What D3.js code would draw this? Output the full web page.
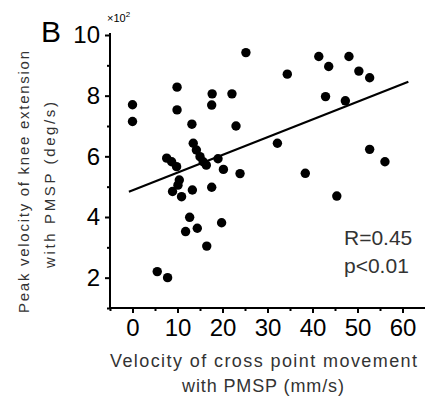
<!DOCTYPE html>
<html>
<head>
<meta charset="utf-8">
<script src="https://cdn.jsdelivr.net/npm/d3@7"></script>
<style>
  html, body { margin: 0; padding: 0; background: #fff; }
  svg { display: block; font-family: "Liberation Sans", Arial, sans-serif; }
</style>
</head>
<body>
<svg id="chart" width="425" height="396"></svg>
<script>
// velocity of cross point movement (mm/s)
const crossVelocity = [
  0, 0, 5.5, 7.8, 7.6, 8.7, 9.8, 9.9, 9.9, 10.4,
  10.1, 8.9, 10.9, 13.3, 11.8, 12.7, 14.4, 13.2, 13.5, 14.2,
  15.0, 15.7, 16.4, 16.5, 17.6, 17.7, 17.6, 19.0, 19.8, 20.2,
  22.1, 23.0, 23.9, 25.2, 32.2, 34.4, 38.4, 41.4, 42.9, 43.6,
  45.4, 47.3, 48.1, 50.3, 52.7, 52.7, 56.1
];
// peak velocity of knee extension (x10^2 deg/s)
const kneeVelocity = [
  7.7, 7.15, 2.2, 2.0, 5.94, 5.82, 5.66, 8.28, 7.53, 5.22,
  5.05, 4.84, 4.67, 4.89, 3.52, 3.99, 3.63, 7.06, 6.43, 6.21,
  5.99, 5.82, 5.71, 3.04, 4.98, 8.06, 7.69, 5.92, 3.81, 5.57,
  8.06, 7.0, 5.43, 9.42, 6.43, 8.71, 5.44, 9.29, 7.97, 8.96,
  4.69, 7.83, 9.29, 8.81, 8.59, 6.23, 5.82
];
// regression line end points
const fitX = [-0.8, 61.3];
const fitY = [4.83, 8.46];

const xTicks = [0, 10, 20, 30, 40, 50, 60];
const xMinorTicks = [-5, 5, 15, 25, 35, 45, 55];
const yTicks = [2, 4, 6, 8, 10];
const yMinorTicks = [1, 3, 5, 7, 9];

const svg = d3.select("#chart");

const x = d3.scaleLinear().domain([-5, 65]).range([110, 425]);
const y = d3.scaleLinear().domain([1, 10]).range([308, 35]);

// eixo y
const yAxis = svg.append("g").attr("transform", "translate(110,0)");
yAxis.call(d3.axisLeft(y).tickValues(yMinorTicks).tickSize(3).tickSizeOuter(0).tickFormat(""));
yAxis.selectAll(".tick line").attr("stroke-width", 2);
yAxis.select(".domain").remove();
const yAxisMajor = svg.append("g").attr("transform", "translate(110,0)");
yAxisMajor.call(d3.axisLeft(y).tickValues(yTicks).tickSize(5).tickSizeOuter(0).tickPadding(5));
yAxisMajor.select(".domain").attr("d", `M0,${y(1)}V${y(10) - 2}`).attr("stroke-width", 2);
yAxisMajor.selectAll(".tick line").attr("stroke-width", 2);
yAxisMajor.selectAll(".tick text").attr("font-size", 24).attr("font-family", "Liberation Sans, Arial, sans-serif").attr("fill", "#000");

// eixo x
const xAxis = svg.append("g").attr("transform", "translate(0,308)");
xAxis.call(d3.axisBottom(x).tickValues(xMinorTicks).tickSize(3).tickSizeOuter(0).tickFormat(""));
xAxis.selectAll(".tick line").attr("stroke-width", 2);
xAxis.select(".domain").remove();
const xAxisMajor = svg.append("g").attr("transform", "translate(0,308)");
xAxisMajor.call(d3.axisBottom(x).tickValues(xTicks).tickSize(5).tickSizeOuter(0).tickPadding(6));
xAxisMajor.select(".domain").attr("d", `M${x(-5) - 1},0H425`).attr("stroke-width", 2);
xAxisMajor.selectAll(".tick line").attr("stroke-width", 2);
xAxisMajor.selectAll(".tick text").attr("font-size", 24).attr("font-family", "Liberation Sans, Arial, sans-serif").attr("fill", "#000");

// pontos
const points = crossVelocity.map((v, i) => ({ cx: v, pv: kneeVelocity[i] }));
svg.append("g")
  .selectAll("circle")
  .data(points)
  .enter()
  .append("circle")
  .attr("cx", (d) => x(d.cx))
  .attr("cy", (d) => y(d.pv))
  .attr("r", 4.7)
  .attr("fill", "#000");

// linha de regressao
const line = d3.line().x((d) => x(d[0])).y((d) => y(d[1]));
svg.append("path")
  .datum(fitX.map((v, i) => [v, fitY[i]]))
  .attr("fill", "none")
  .attr("stroke", "#000")
  .attr("stroke-width", 2.2)
  .attr("d", line);

// textos
svg.append("text").attr("x", 41).attr("y", 42).attr("font-size", 30).text("B");

const mult = svg.append("text").attr("x", 107).attr("y", 22).attr("font-size", 11);
mult.append("tspan").text("×10");
mult.append("tspan").attr("dy", -5).attr("font-size", 8).text("2");

svg.append("text").attr("x", 344).attr("y", 245).attr("font-size", 21).attr("fill", "#333").text("R=0.45");
svg.append("text").attr("x", 344).attr("y", 273).attr("font-size", 21).attr("fill", "#333").text("p<0.01");

// titulo eixo y
const yTitle = svg.append("g").attr("transform", "translate(0,182) rotate(-90)");
yTitle.append("text").attr("x", 0).attr("y", 28.5).attr("text-anchor", "middle")
  .attr("font-size", 15).attr("fill", "#333").attr("textLength", 262).attr("lengthAdjust", "spacing")
  .text("Peak velocity of knee extension");
yTitle.append("text").attr("x", -3).attr("y", 55).attr("text-anchor", "middle")
  .attr("font-size", 15).attr("fill", "#333").attr("textLength", 166).attr("lengthAdjust", "spacing")
  .text("with PMSP (deg/s)");

// titulo eixo x
svg.append("text").attr("x", 263.5).attr("y", 367).attr("text-anchor", "middle")
  .attr("font-size", 18).attr("fill", "#333").attr("textLength", 307).attr("lengthAdjust", "spacing")
  .text("Velocity of cross point movement");
svg.append("text").attr("x", 263).attr("y", 392).attr("text-anchor", "middle")
  .attr("font-size", 18).attr("fill", "#333").attr("textLength", 162).attr("lengthAdjust", "spacing")
  .text("with PMSP (mm/s)");
</script>
</body>
</html>
